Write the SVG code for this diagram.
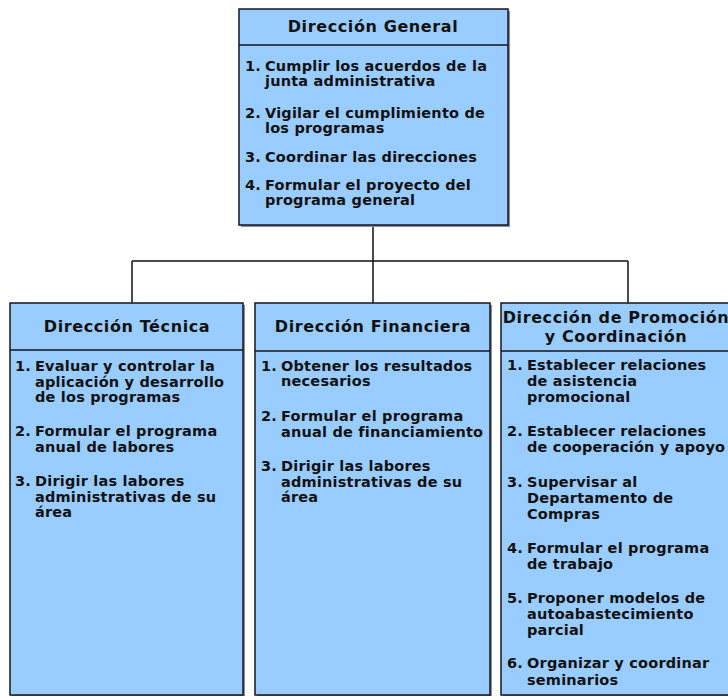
<svg xmlns="http://www.w3.org/2000/svg" width="728" height="696" viewBox="0 0 728 696">
<style>
.box{fill:#99ccff;stroke:#151520;stroke-width:1.5}
.shadow{fill:#8a8f96}
.div{stroke:#151520;stroke-width:1.5}
.conn{fill:none;stroke:#111;stroke-width:1.5}
.t{font-family:"DejaVu Sans",Verdana,sans-serif;font-weight:bold;font-size:16px;letter-spacing:0.6px;fill:#111;text-anchor:middle}
.i{font-family:"DejaVu Sans",Verdana,sans-serif;font-weight:bold;font-size:14.5px;letter-spacing:0.2px;fill:#111}
</style>
<rect width="728" height="696" fill="#ffffff"/>
<g id="connectors">
<path class="conn" d="M373 225V261M132 261H628M132 261V303M373 261V303M628 261V303"/>
</g>
<g id="direccion-general">
<rect class="shadow" x="241" y="11" width="269" height="216"/>
<rect class="box" x="239" y="9" width="269" height="216"/>
<line class="div" x1="239" y1="45" x2="508" y2="45"/>
<text class="t" x="373" y="32">Dirección General</text>
<text class="i" x="245" y="71">1.</text><text class="i" x="265" y="71">Cumplir los acuerdos de la</text>
<text class="i" x="265" y="86">junta administrativa</text>
<text class="i" x="245" y="118">2.</text><text class="i" x="265" y="118">Vigilar el cumplimiento de</text>
<text class="i" x="265" y="133">los programas</text>
<text class="i" x="245" y="162">3.</text><text class="i" x="265" y="162">Coordinar las direcciones</text>
<text class="i" x="245" y="190">4.</text><text class="i" x="265" y="190">Formular el proyecto del</text>
<text class="i" x="265" y="205">programa general</text>
</g>
<g id="direccion-tecnica">
<rect class="shadow" x="12" y="305" width="233" height="392"/>
<rect class="box" x="10" y="303" width="233" height="392"/>
<line class="div" x1="10" y1="350" x2="243" y2="350"/>
<text class="t" x="127" y="332">Dirección Técnica</text>
<text class="i" x="15" y="371">1.</text><text class="i" x="35" y="371">Evaluar y controlar la</text>
<text class="i" x="35" y="387">aplicación y desarrollo</text>
<text class="i" x="35" y="402">de los programas</text>
<text class="i" x="15" y="436">2.</text><text class="i" x="35" y="436">Formular el programa</text>
<text class="i" x="35" y="452">anual de labores</text>
<text class="i" x="15" y="486">3.</text><text class="i" x="35" y="486">Dirigir las labores</text>
<text class="i" x="35" y="502">administrativas de su</text>
<text class="i" x="35" y="517">área</text>
</g>
<g id="direccion-financiera">
<rect class="shadow" x="257" y="305" width="235" height="392"/>
<rect class="box" x="255" y="303" width="235" height="392"/>
<line class="div" x1="255" y1="351" x2="490" y2="351"/>
<text class="t" x="373" y="332">Dirección Financiera</text>
<text class="i" x="261" y="371">1.</text><text class="i" x="281" y="371">Obtener los resultados</text>
<text class="i" x="281" y="386">necesarios</text>
<text class="i" x="261" y="421">2.</text><text class="i" x="281" y="421">Formular el programa</text>
<text class="i" x="281" y="437">anual de financiamiento</text>
<text class="i" x="261" y="471">3.</text><text class="i" x="281" y="471">Dirigir las labores</text>
<text class="i" x="281" y="487">administrativas de su</text>
<text class="i" x="281" y="502">área</text>
</g>
<g id="direccion-promocion">
<rect class="shadow" x="503" y="305" width="231" height="392"/>
<rect class="box" x="501" y="303" width="231" height="392"/>
<line class="div" x1="501" y1="351" x2="732" y2="351"/>
<text class="t" x="616" y="323">Dirección de Promoción</text>
<text class="t" x="616" y="342">y Coordinación</text>
<text class="i" x="507" y="370">1.</text><text class="i" x="527" y="370">Establecer relaciones</text>
<text class="i" x="527" y="386">de asistencia</text>
<text class="i" x="527" y="402">promocional</text>
<text class="i" x="507" y="436">2.</text><text class="i" x="527" y="436">Establecer relaciones</text>
<text class="i" x="527" y="452">de cooperación y apoyo</text>
<text class="i" x="507" y="487">3.</text><text class="i" x="527" y="487">Supervisar al</text>
<text class="i" x="527" y="503">Departamento de</text>
<text class="i" x="527" y="519">Compras</text>
<text class="i" x="507" y="553">4.</text><text class="i" x="527" y="553">Formular el programa</text>
<text class="i" x="527" y="569">de trabajo</text>
<text class="i" x="507" y="603">5.</text><text class="i" x="527" y="603">Proponer modelos de</text>
<text class="i" x="527" y="619">autoabastecimiento</text>
<text class="i" x="527" y="635">parcial</text>
<text class="i" x="507" y="668">6.</text><text class="i" x="527" y="668">Organizar y coordinar</text>
<text class="i" x="527" y="685">seminarios</text>
</g>
</svg>
